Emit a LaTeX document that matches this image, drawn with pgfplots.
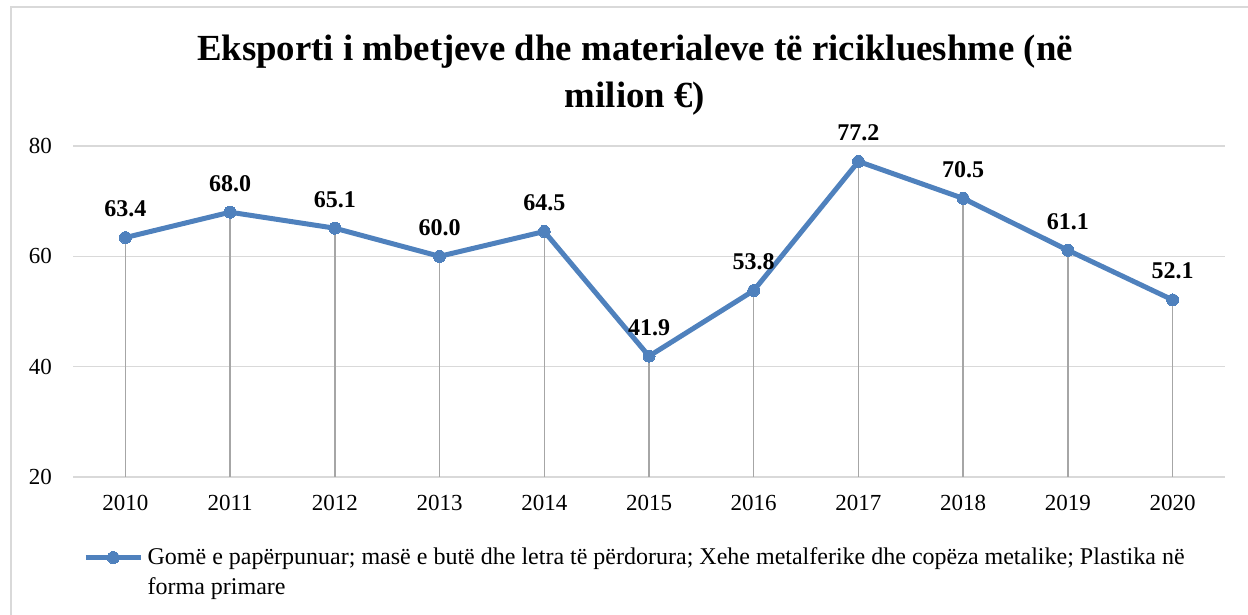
\documentclass[border=0pt]{standalone}
\usepackage{fontspec}
\setmainfont{Liberation Serif}
\usepackage{pgfplots}
\pgfplotsset{compat=1.18}
\definecolor{lineblue}{HTML}{4F81BD}
\definecolor{gridgray}{HTML}{D9D9D9}
\definecolor{dropgray}{HTML}{A6A6A6}
\begin{document}
\begin{tikzpicture}
\path[use as bounding box] (-36.5pt,-69pt) rectangle (587.5pt,238.5pt);
\draw[gridgray, line width=0.9pt] (-31pt,-70pt) -- (-31pt,235pt) -- (590pt,235pt);
\begin{axis}[
  at={(0,0)}, anchor=south west,
  scale only axis, width=576pt, height=165.5pt,
  xmin=-0.5, xmax=10.5, ymin=20, ymax=80,
  xtick={0,1,2,3,4,5,6,7,8,9,10},
  xticklabels={2010,2011,2012,2013,2014,2015,2016,2017,2018,2019,2020},
  ytick={20,40,60,80},
  ymajorgrids, grid style={gridgray, line width=0.75pt},
  axis line style={draw=none},
  tick style={draw=none},
  /pgf/number format/assume math mode=true,
  tick label style={font=\fontsize{11.5}{13}\selectfont},
  xticklabel style={yshift=-5.5pt},
  yticklabel style={xshift=-7pt},
  clip=false,
  legend style={at={(0.0087,-0.2)}, anchor=north west, draw=none, fill=none,
    font=\fontsize{12}{15}\selectfont, cells={align=left}, inner sep=0pt,
    legend cell align=left},
  legend image code/.code={\draw[mark repeat=2,mark phase=2,yshift=7.5pt] plot coordinates {(0cm,0cm)(0.48cm,0cm)(0.97cm,0cm)};},
]
\addplot[ycomb, dropgray, line width=0.75pt, forget plot] coordinates {
(0,63.4) (1,68.0) (2,65.1) (3,60.0) (4,64.5) (5,41.9) (6,53.8) (7,77.2) (8,70.5) (9,61.1) (10,52.1)};
\addplot[lineblue, line width=2.5pt, mark=*, mark size=3pt, mark options={solid, fill=lineblue, draw=lineblue, line width=0pt},
  nodes near coords, point meta=explicit,
  every node near coord/.append style={font=\fontsize{12}{14}\selectfont\bfseries, text=black, anchor=south, yshift=7pt,
  /pgf/number format/.cd, fixed, fixed zerofill, precision=1}]
coordinates {
(0,63.4) [63.4] (1,68.0) [68.0] (2,65.1) [65.1] (3,60.0) [60.0] (4,64.5) [64.5] (5,41.9) [41.9] (6,53.8) [53.8] (7,77.2) [77.2] (8,70.5) [70.5] (9,61.1) [61.1] (10,52.1) [52.1]};
\addlegendentry{Gomë e papërpunuar; masë e butë dhe letra të përdorura; Xehe metalferike dhe copëza metalike; Plastika në\\forma primare}
\end{axis}
\node[font=\fontsize{18.4}{23.5}\selectfont\bfseries, align=center] at (281pt,201pt) {Eksporti i mbetjeve dhe materialeve të riciklueshme (në\\milion €)};
\end{tikzpicture}
\end{document}
